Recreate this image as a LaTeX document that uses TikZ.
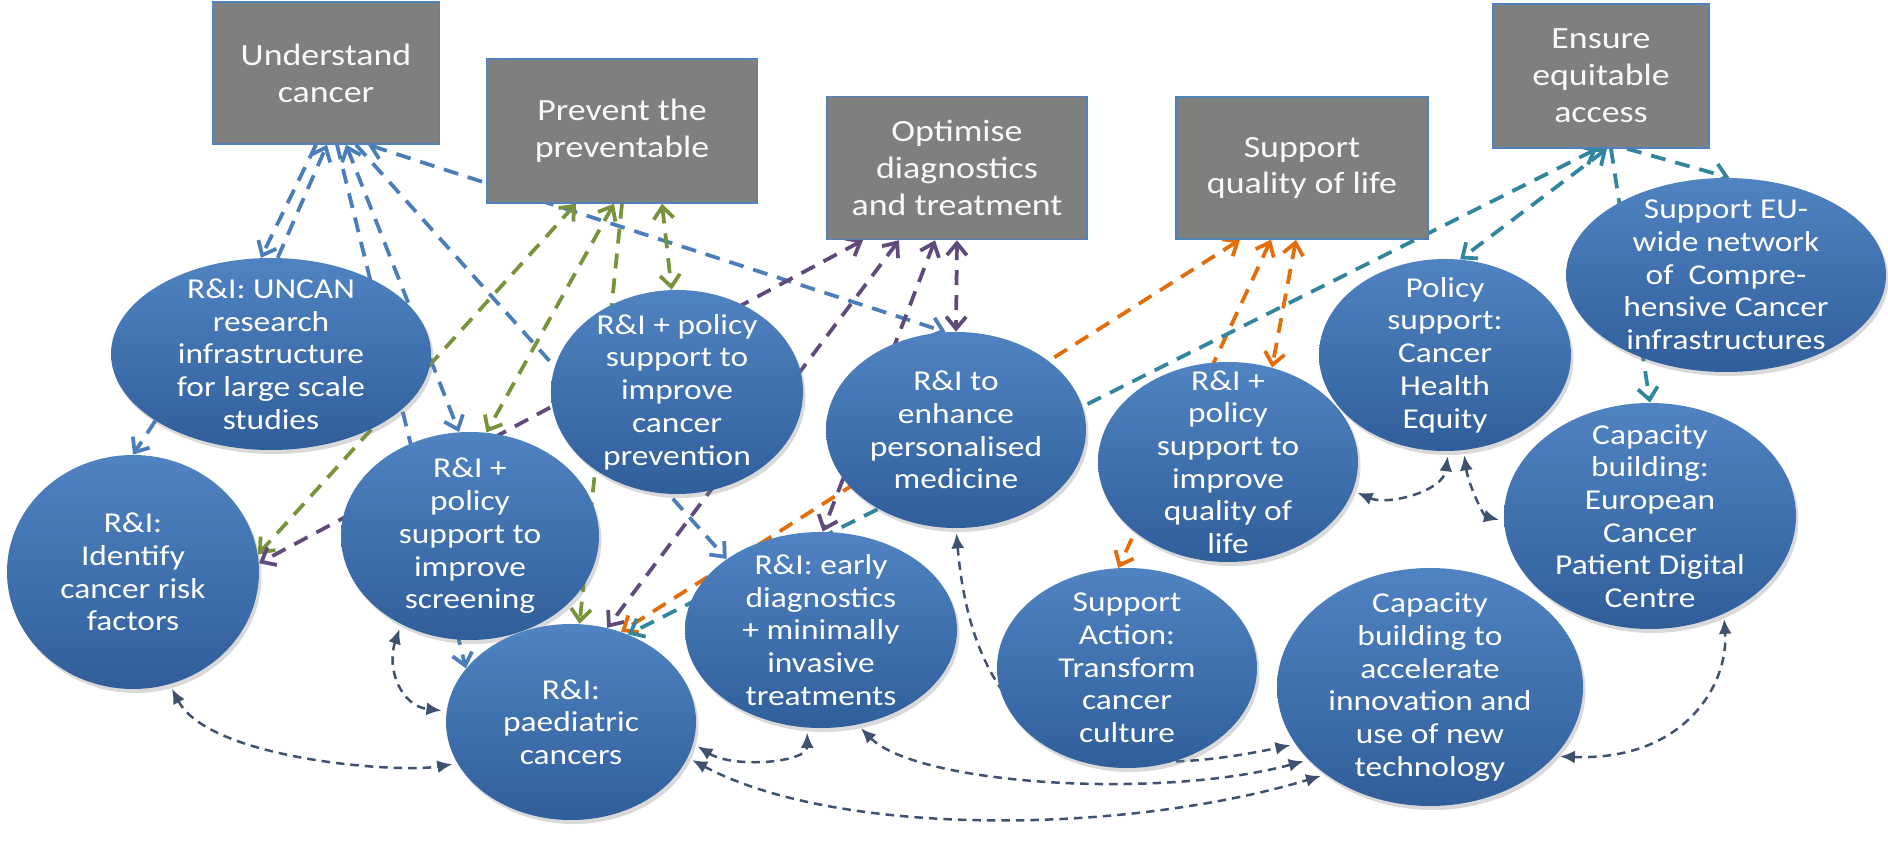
\documentclass[tikz,border=0pt]{standalone}
\usepackage{fontspec}
\setmainfont{Carlito}[FakeStretch=1.16]
\usetikzlibrary{shapes.geometric,arrows.meta,shadows,backgrounds}

\definecolor{boxgray}{RGB}{127,127,127}
\definecolor{boxedge}{RGB}{79,129,189}
\definecolor{elltop}{RGB}{80,131,194}
\definecolor{ellbot}{RGB}{48,94,155}
\definecolor{bluearr}{RGB}{74,126,187}
\definecolor{greenarr}{RGB}{119,147,60}
\definecolor{purplearr}{RGB}{96,74,123}
\definecolor{orangearr}{RGB}{228,108,10}
\definecolor{tealarr}{RGB}{49,133,156}
\definecolor{curvearr}{RGB}{62,82,112}

\begin{document}
\begin{tikzpicture}[x=0.2mm, y=-0.2mm,
    goal/.style={rectangle, fill=boxgray, draw=boxedge, line width=0.3mm, text=white!95!gray,
        align=center, inner sep=0pt, font=\fontsize{17.6}{21}\selectfont},
    action/.style={ellipse, top color=elltop, bottom color=ellbot, text=white, align=center,
        inner sep=-8mm, font=\fontsize{16.4}{18.6}\selectfont,
        drop shadow={shadow xshift=0.5mm, shadow yshift=-0.8mm, opacity=0.3}},
    link/.style={line width=0.75mm, dash pattern=on 3mm off 2mm,
        >={Straight Barb[length=2.4mm,width=4mm]}},
    bluelink/.style={link, draw=bluearr},
    greenlink/.style={link, draw=greenarr},
    purplelink/.style={link, draw=purplearr},
    orangelink/.style={link, draw=orangearr},
    teallink/.style={link, draw=tealarr},
    curvelink/.style={<->, line width=0.5mm, draw=curvearr, dash pattern=on 1.7mm off 1.2mm,
        >={Latex[length=3mm,width=2.6mm]}, shorten <=1mm, shorten >=1mm}]
    \useasboundingbox (0,0) rectangle (1888,843);

    % the five goals
    \node[goal, minimum width=45.4mm, minimum height=28.4mm] (und) at (326,73) {Understand\\cancer};
    \node[goal, minimum width=54.2mm, minimum height=28.8mm] (prev) at (622,131) {Prevent the\\preventable};
    \node[goal, minimum width=52mm, minimum height=28.6mm] (opt) at (957,168) {Optimise\\diagnostics\\and treatment};
    \node[goal, minimum width=50.4mm, minimum height=28.4mm] (sup) at (1302,168) {Support\\quality of life};
    \node[goal, minimum width=43.2mm, minimum height=28.8mm] (ens) at (1601,76) {Ensure\\equitable\\access};

    % the actions
    \node[action, minimum width=64mm, minimum height=38.4mm] (uncan) at (271,354) {R\&I: UNCAN\\research\\infrastructure\\for large scale\\studies};
    \node[action, minimum width=50.4mm, minimum height=46.8mm] (risk) at (133,572) {R\&I:\\Identify\\cancer risk\\factors};
    \node[action, minimum width=51.6mm, minimum height=41.6mm] (screen) at (470,536) {R\&I +\\policy\\support to\\improve\\screening};
    \node[action, minimum width=50mm, minimum height=39.2mm] (paed) at (571,722) {R\&I:\\paediatric\\cancers};
    \node[action, minimum width=50.4mm, minimum height=40.8mm] (cprev) at (677,392) {R\&I + policy\\support to\\improve\\cancer\\prevention};
    \node[action, minimum width=52mm, minimum height=39.2mm] (pmed) at (956,430) {R\&I to\\enhance\\personalised\\medicine};
    \node[action, minimum width=54.4mm, minimum height=39.2mm] (early) at (821,630) {R\&I: early\\diagnostics\\+ minimally\\invasive\\treatments};
    \node[action, minimum width=52mm, minimum height=40mm] (qol) at (1228,462) {R\&I +\\policy\\support to\\improve\\quality of\\life};
    \node[action, minimum width=52mm, minimum height=40mm] (culture) at (1127,668) {Support\\Action:\\Transform\\cancer\\culture};
    \node[action, minimum width=50.4mm, minimum height=38.4mm] (equity) at (1445,355) {Policy\\support:\\Cancer\\Health\\Equity};
    \node[action, minimum width=64mm, minimum height=38.8mm] (network) at (1726,275) {Support EU-\\wide network\\of\ \ Compre-\\hensive Cancer\\infrastructures};
    \node[action, minimum width=58.4mm, minimum height=45.2mm] (ecpdc) at (1650,516) {Capacity\\building:\\European\\Cancer\\Patient Digital\\Centre};
    \node[action, minimum width=61.2mm, minimum height=47.6mm] (innov) at (1430,687) {Capacity\\building to\\accelerate\\innovation and\\use of new\\technology};

    \begin{pgfonlayer}{background}
    % understand cancer
    \draw[bluelink,->] ([xshift=-2mm]und.south) -- (uncan.96);
    \draw[bluelink,->] (uncan.86) -- ([xshift=0.2mm]und.south);
    \draw[bluelink,->] (uncan.210) -- (risk.90);
    \draw[bluelink,->] ([xshift=2.2mm]und.south) -- (paed.153);
    \draw[bluelink,<->] ([xshift=4mm]und.south) -- (screen.96);
    \draw[bluelink,->] ([xshift=6mm]und.south) -- (early.143);
    \draw[bluelink,<->] ([xshift=8.4mm]und.south) -- (pmed.96);
    % prevent the preventable
    \draw[greenlink,<->] ([xshift=8mm]prev.south) -- (cprev.93);
    \draw[greenlink,<->] ([xshift=-9.2mm]prev.south) -- (risk.8);
    \draw[greenlink,<->] ([xshift=-1.6mm]prev.south) -- (screen.81);
    \draw[greenlink,->] (prev.south) -- (paed.85);
    % optimise diagnostics
    \draw[purplelink,<->] (opt.south) -- (pmed.90);
    \draw[purplelink,<->] ([xshift=-18.8mm]opt.south) -- (risk.4);
    \draw[purplelink,<->] ([xshift=-11.6mm]opt.south) -- (paed.69);
    \draw[purplelink,<->] ([xshift=-4.4mm]opt.south) -- (early.89);
    % quality of life
    \draw[orangelink,<->] ([xshift=-1.2mm]sup.south) -- (qol.65);
    \draw[orangelink,<->] ([xshift=-12.4mm]sup.south) -- (paed.61);
    \draw[orangelink,<->] ([xshift=-6.2mm]sup.south) -- (culture.95);
    % equitable access
    \draw[teallink,<->] ([xshift=1.2mm]ens.south) -- (equity.81);
    \draw[teallink,->] ([xshift=5.2mm]ens.south) -- (network.88);
    \draw[teallink,->] ([xshift=2mm]ens.south) -- (ecpdc.90);
    \draw[teallink,<->] ([xshift=-0.8mm]ens.south) -- (paed.57);
    % links between actions
    \draw[curvelink] (screen.232) .. controls +(-15,45) and +(-45,-5) .. (paed.175);
    \draw[curvelink] (risk.-72) .. controls +(40,75) and +(-60,10) .. (paed.200);
    \draw[curvelink] (paed.-10) .. controls +(40,25) and +(0,35) .. (early.262);
    \draw[curvelink] (paed.-17) .. controls +(150,80) and +(-200,60) .. (innov.220);
    \draw[curvelink] (early.-69) .. controls +(60,60) and +(-150,40) .. (innov.211);
    \draw[curvelink] (pmed.270) .. controls +(20,230) and +(-190,40) .. (innov.203);
    \draw[curvelink] (qol.-13) .. controls +(35,15) and +(-5,40) .. (equity.-88);
    \draw[curvelink] (equity.-79) .. controls +(5,35) and +(-20,-5) .. (ecpdc.182);
    \draw[curvelink] (innov.-29) .. controls +(130,5) and +(5,70) .. (ecpdc.-53);
    \end{pgfonlayer}
\end{tikzpicture}
\end{document}
